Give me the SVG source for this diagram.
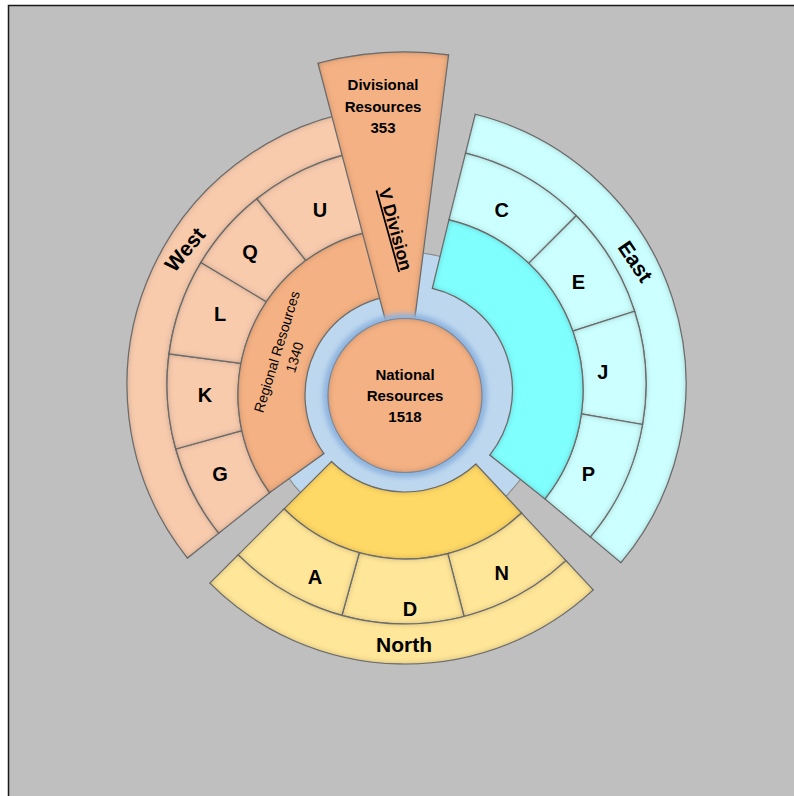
<svg xmlns="http://www.w3.org/2000/svg" width="794" height="796" viewBox="0 0 794 796">
<defs>
<filter id="inset" x="-10%" y="-10%" width="120%" height="120%">
<feFlood flood-color="#262626" flood-opacity="0.6" result="f"/>
<feComposite in="f" in2="SourceAlpha" operator="out" result="o"/>
<feGaussianBlur in="o" stdDeviation="3" result="b"/>
<feComposite in="b" in2="SourceAlpha" operator="in" result="s"/>
<feMerge><feMergeNode in="SourceGraphic"/><feMergeNode in="s"/></feMerge>
</filter>
<filter id="glow" x="-20%" y="-20%" width="140%" height="140%"><feGaussianBlur stdDeviation="2.5"/></filter>
</defs>
<style>
.seg{stroke:#7a7a7a;stroke-width:1.2;filter:url(#inset)}
.wl{fill:#f8cbad}.wd{fill:#f4b183}.el{fill:#ccffff}.ed{fill:#80ffff}.nl{fill:#ffe699}.nd{fill:#ffd966}
text{font-family:"Liberation Sans",Arial,sans-serif;fill:#000}
.lt{font-size:20px;font-weight:bold;text-anchor:middle}
.rg{font-size:21px;font-weight:bold;text-anchor:middle}
.ct{font-size:15px;font-weight:bold;text-anchor:middle}
.rr{font-size:14px;text-anchor:middle}
</style>
<rect x="0" y="0" width="794" height="796" fill="#ffffff"/>
<rect x="8.5" y="5.5" width="800" height="800" fill="#bfbfbf" stroke="#1a1a1a" stroke-width="1.5"/>

<g id="blue-ring">
<circle cx="405" cy="395" r="143" fill="#bdd7ee" stroke="#8c8c8c" stroke-width="1.2"/>
</g>

<g id="west">
<g id="west-band"><path class="seg wl" d="M187.43,558.06 A278,278 0 0 1 395.30,107.17 L396.69,147.15 A238,238 0 0 0 218.74,533.16 Z"/>
<text class="rg" transform="translate(190.6,254.1) rotate(-50)">West</text></g>
<g id="cell-G"><path class="seg wl" d="M269.61,492.69 L218.74,533.16 A238,238 0 0 1 175.77,449.00 L241.84,430.56 A167,167 0 0 0 269.61,492.69 Z"/><text class="lt" x="220" y="480.5">G</text></g>
<g id="cell-K"><path class="seg wl" d="M241.84,430.56 L175.77,449.00 A238,238 0 0 1 169.04,353.93 L241.02,363.41 A167,167 0 0 0 241.84,430.56 Z"/><text class="lt" x="205" y="402">K</text></g>
<g id="cell-L"><path class="seg wl" d="M241.02,363.41 L169.04,353.93 A238,238 0 0 1 200.99,262.42 L266.48,301.77 A167,167 0 0 0 241.02,363.41 Z"/><text class="lt" x="220" y="320.5">L</text></g>
<g id="cell-Q"><path class="seg wl" d="M266.48,301.77 L200.99,262.42 A238,238 0 0 1 256.84,198.74 L305.99,260.53 A167,167 0 0 0 266.48,301.77 Z"/><text class="lt" x="250" y="259">Q</text></g>
<g id="cell-U"><path class="seg wl" d="M305.99,260.53 L256.84,198.74 A238,238 0 0 1 396.69,147.15 L399.52,228.10 A167,167 0 0 0 305.99,260.53 Z"/><text class="lt" x="320" y="217">U</text></g>
<g id="regional"><path class="seg wd" d="M269.55,492.69 A167,167 0 0 1 399.17,228.10 L401.51,295.06 A100,100 0 0 0 323.89,453.50 Z"/>
<text class="rr" transform="translate(281.5,353.2) rotate(-73)"><tspan x="0" y="0">Regional Resources</tspan><tspan x="0" y="18.5">1340</tspan></text></g>
</g>

<g id="east">
<g id="east-band"><path class="seg el" d="M475.25,114.26 A278,278 0 0 1 620.96,562.70 L590.32,536.98 A238,238 0 0 0 465.58,153.07 Z"/>
<text class="rg" transform="translate(629.3,265.6) rotate(56)">East</text></g>
<g id="cell-C"><path class="seg el" d="M448.93,219.86 L465.58,153.07 A238,238 0 0 1 576.29,215.71 L528.70,263.30 A175,175 0 0 0 448.93,219.86 Z"/><text class="lt" x="501.7" y="217">C</text></g>
<g id="cell-E"><path class="seg el" d="M528.70,263.30 L576.29,215.71 A238,238 0 0 1 634.61,311.24 L572.79,331.09 A175,175 0 0 0 528.70,263.30 Z"/><text class="lt" x="578.3" y="289">E</text></g>
<g id="cell-J"><path class="seg el" d="M572.79,331.09 L634.61,311.24 A238,238 0 0 1 642.53,424.51 L581.35,413.94 A175,175 0 0 0 572.79,331.09 Z"/><text class="lt" x="602.7" y="379">J</text></g>
<g id="cell-P"><path class="seg el" d="M581.35,413.94 L642.53,424.51 A238,238 0 0 1 590.32,536.98 L544.97,498.93 A175,175 0 0 0 581.35,413.94 Z"/><text class="lt" x="588.3" y="480.5">P</text></g>
<g id="east-inner"><path class="seg ed" d="M448.93,219.86 A175,175 0 0 1 544.97,498.93 L489.78,455.05 A104.5,104.5 0 0 0 432.34,288.37 Z"/></g>
</g>

<g id="north">
<g id="north-inner"><path class="seg nd" d="M521.62,513.06 A171,171 0 0 1 284.08,508.92 L331.46,461.54 A104,104 0 0 0 475.93,464.06 Z"/></g>
<g id="cell-N"><path class="seg nl" d="M521.62,513.06 L565.95,560.60 A236,236 0 0 1 464.09,616.48 L447.81,553.55 A171,171 0 0 0 521.62,513.06 Z"/><text class="lt" x="501.7" y="580">N</text></g>
<g id="cell-D"><path class="seg nl" d="M447.81,553.55 L464.09,616.48 A236,236 0 0 1 341.93,615.42 L359.30,552.78 A171,171 0 0 0 447.81,553.55 Z"/><text class="lt" x="410" y="615.5">D</text></g>
<g id="cell-A"><path class="seg nl" d="M359.30,552.78 L341.93,615.42 A236,236 0 0 1 238.12,554.88 L284.08,508.92 A171,171 0 0 0 359.30,552.78 Z"/><text class="lt" x="315" y="584">A</text></g>
<g id="north-band"><path class="seg nl" d="M593.23,589.85 A276,276 0 0 1 209.84,583.16 L238.12,554.88 A236,236 0 0 0 565.95,560.60 Z"/><text class="rg" x="404" y="651.5">North</text></g>
</g>

<g id="division">
<path class="seg wd" d="M317.96,63.23 A343,343 0 0 1 448.58,54.78 L414.66,319.62 A76,76 0 0 0 385.71,321.49 Z"/>
<text class="ct" x="383" y="90">Divisional</text>
<text class="ct" x="383" y="111.5">Resources</text>
<text class="ct" x="383" y="133">353</text>
<text transform="translate(389.6,230.8) rotate(74.5)" font-size="17.5" font-weight="bold" text-anchor="middle" text-decoration="underline">V Division</text>
</g>

<g id="national">
<circle cx="405" cy="395.5" r="82" fill="#8fb4df" filter="url(#glow)"/>
<circle class="seg wd" cx="405" cy="395.5" r="77" style="stroke:#8a9bb0"/>
<text class="ct" x="405" y="379.5">National</text>
<text class="ct" x="405" y="401">Resources</text>
<text class="ct" x="405" y="422">1518</text>
</g>
</svg>
